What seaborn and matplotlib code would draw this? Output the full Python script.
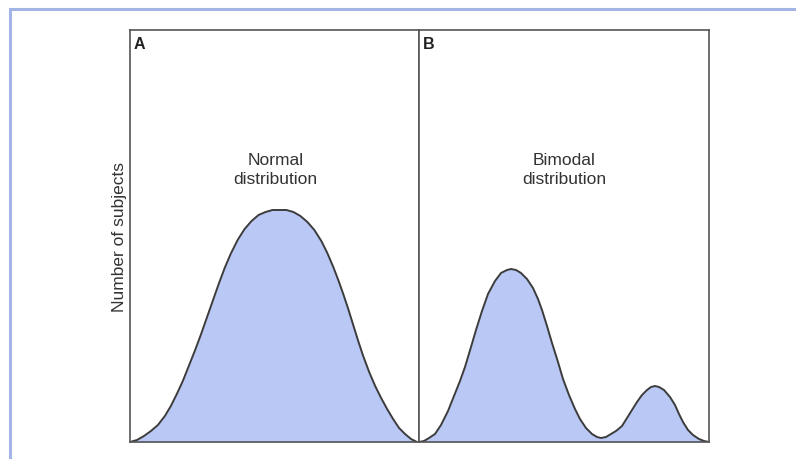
import pandas as pd
import matplotlib.pyplot as plt
import seaborn as sns
from matplotlib.patches import Rectangle

# 곡선 값 (그림에서 읽은 점, x: 패널 왼쪽부터, y: 바닥부터)
normal_x = [0, 7, 14, 21, 28, 35, 41, 47, 53, 59, 65, 71, 77, 83, 89, 95, 101, 108,
            115, 122, 129, 136, 143, 150, 157, 164, 171, 178, 185, 192, 198, 204,
            209, 214, 219, 224, 229, 234, 240, 246, 252, 258, 264, 270, 276, 282, 288]
normal_y = [0, 2, 6, 11, 17, 26, 36, 48, 61, 76, 91, 107, 124, 141, 158, 174, 188, 202,
            213, 221, 227, 230, 232, 232, 232, 230, 226, 220, 212, 201, 189, 175,
            162, 148, 133, 117, 101, 86, 70, 56, 44, 33, 23, 14, 8, 3, 0]

bimodal_x = [0, 5, 10, 16, 22, 29, 35, 41, 46, 52, 57, 63, 69, 76, 82, 88, 92, 97,
             102, 108, 114, 119, 123, 128, 133, 139, 144, 150, 156, 161, 167, 173,
             178, 182, 187, 192, 197, 203, 208, 213, 218, 223, 228, 232, 236, 240,
             245, 251, 256, 260, 264, 269, 274, 280, 285, 290]
bimodal_y = [0, 1, 4, 8, 17, 31, 46, 61, 75, 95, 112, 131, 148, 161, 169, 172, 173, 172,
             169, 163, 154, 143, 132, 116, 99, 80, 63, 47, 33, 23, 14, 8,
             5, 4, 5, 8, 11, 16, 24, 32, 40, 47, 52, 55, 56, 55,
             52, 45, 37, 28, 20, 12, 7, 3, 1, 0]

panel_labels = ['A', 'B']
panel_titles = ['Normal\ndistribution', 'Bimodal\ndistribution']

sns.set_style('white')
plt.rcParams['font.family'] = ['Liberation Sans', 'DejaVu Sans']

fig = plt.figure(figsize=(7.96, 4.60), dpi=100)

# 바깥 파란 테두리
fig.patches.append(Rectangle((10 / 796, -0.1), 1.2, 1.1 - 10 / 460, transform=fig.transFigure,
                             fill=False, edgecolor='#a3b5e6', linewidth=2.2))

bottom = 1 - 443 / 460
height = (443 - 31) / 460
ax_a = fig.add_axes([130 / 796, bottom, 289 / 796, height])
ax_b = fig.add_axes([419 / 796, bottom, 290 / 796, height])

curves = [(normal_x, normal_y), (bimodal_x, bimodal_y)]
title_pos = [(146, 0.663), (145, 0.663)]
for ax, (xs, ys), lab, title, (tx, ty) in zip([ax_a, ax_b], curves, panel_labels, panel_titles, title_pos):
    df = pd.DataFrame({'x': xs, 'y': ys})
    ax.fill_between(df['x'], df['y'], color='#b9c8f5', linewidth=0)
    sns.lineplot(data=df, x='x', y='y', ax=ax, color='#3c3c3c', linewidth=1.4)
    ax.set_xlim(0, 290)
    ax.set_ylim(0, 412)
    ax.set_xticks([])
    ax.set_yticks([])
    ax.set_xlabel('')
    ax.set_ylabel('')
    for s in ax.spines.values():
        s.set_color('#555555')
        s.set_linewidth(1.2)
    ax.text(0.014, 0.985, lab, transform=ax.transAxes, ha='left', va='top',
            fontsize=11.5, fontweight='bold', color='#222222')
    ax.text(tx, ty, title, transform=ax.get_xaxis_transform(), ha='center', va='center',
            fontsize=12.5, color='#333333', linespacing=1.3)

ax_a.set_ylabel('Number of subjects', fontsize=12.5, color='#333333', labelpad=2)

fig.savefig('out.png', dpi=100)
